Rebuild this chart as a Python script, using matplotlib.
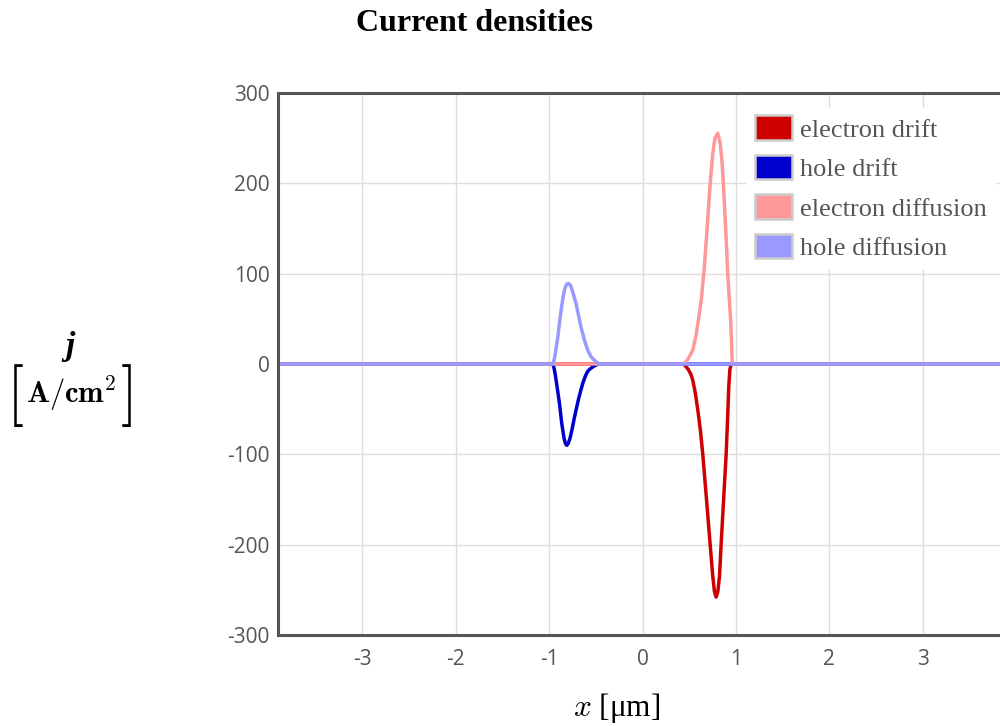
import matplotlib
matplotlib.use("Agg")
import matplotlib.pyplot as plt
from matplotlib.patches import Patch

plt.rcParams['axes.unicode_minus'] = False
plt.rcParams['mathtext.fontset'] = 'cm'

# data (x in um, j in A/cm^2)
hole_drift_x = [-3.9, -0.96, -0.945, -0.93, -0.91, -0.888, -0.865, -0.84, -0.825, -0.81,
                -0.795, -0.775, -0.755, -0.73, -0.709, -0.685, -0.66, -0.638, -0.61,
                -0.585, -0.567, -0.53, -0.495, -0.46, 3.9]
hole_drift_y = [0, 0, -5, -14, -28, -44, -65, -82, -88, -90,
                -88, -82, -73, -60, -50, -39, -29, -21, -13,
                -8, -6, -3, -1, 0, 0]

hole_diff_x = [-3.9, -0.959, -0.94, -0.925, -0.906, -0.89, -0.87, -0.85, -0.83, -0.81,
               -0.788, -0.77, -0.75, -0.73, -0.709, -0.685, -0.656, -0.62, -0.585,
               -0.55, -0.513, -0.48, -0.46, 3.9]
hole_diff_y = [0, 0, 7, 17, 30, 44, 60, 74, 84, 88.5,
               89, 87, 81, 74, 66, 54, 40, 26, 15,
               8, 4, 1, 0, 0]

el_drift_x = [-3.9, 0.43, 0.449, 0.49, 0.52, 0.538, 0.565, 0.592, 0.62, 0.645, 0.685,
              0.724, 0.74, 0.752, 0.77, 0.788, 0.806, 0.824, 0.841, 0.868, 0.895,
              0.91, 0.923, 0.935, 0.949, 3.9]
el_drift_y = [0, 0, -1, -6, -12, -18, -32, -51, -74, -100, -150,
              -200, -220, -235, -252, -258, -252, -235, -200, -150, -100,
              -62, -25, -6, 0, 0]

el_diff_x = [-3.9, 0.43, 0.467, 0.50, 0.538, 0.575, 0.60, 0.63, 0.66, 0.69, 0.724, 0.752,
             0.775, 0.805, 0.83, 0.85, 0.865, 0.89, 0.912, 0.93, 0.945, 0.953, 0.96, 3.9]
el_diff_y = [0, 0, 2.5, 8, 15.5, 33, 50, 72, 105, 148, 200, 233,
             250, 255.5, 245, 225, 200, 150, 100, 70, 45, 22, 0, 0]

labels = ["electron drift", "hole drift", "electron diffusion", "hole diffusion"]
colors = ["#cc0000", "#0000cc", "#ff9999", "#9999ff"]

fig = plt.figure(figsize=(10, 7.26), dpi=100)
ax = fig.add_axes([0.278, 0.1253, 0.729, 0.7466])

series = [(el_drift_x, el_drift_y), (hole_drift_x, hole_drift_y),
          (el_diff_x, el_diff_y), (hole_diff_x, hole_diff_y)]
for (xs, ys), c in zip(series, colors):
    ax.plot(xs, ys, color=c, lw=2.5, solid_joinstyle='round', solid_capstyle='round')

ax.set_xlim(-3.9, 3.9)
ax.set_ylim(-300, 300)
ax.set_xticks([-3, -2, -1, 0, 1, 2, 3])
ax.set_yticks([-300, -200, -100, 0, 100, 200, 300])
ax.grid(True, color="#dddddd", lw=1)
ax.set_axisbelow(True)
ax.tick_params(length=0, labelsize=15, labelcolor="#555555")
ax.tick_params(axis="x", pad=10)
ax.tick_params(axis="y", pad=6)
for lab in ax.get_xticklabels() + ax.get_yticklabels():
    lab.set_fontfamily("Open Sans")
for s in ["left", "bottom", "top", "right"]:
    ax.spines[s].set_color("#555555")
    ax.spines[s].set_linewidth(2.2)

handles = [Patch(facecolor=c, edgecolor="#cccccc", lw=1.8) for c in colors]
leg = ax.legend(handles, labels, loc="upper left", bbox_to_anchor=(0.734, 0.87),
                bbox_transform=fig.transFigure,
                frameon=True, fancybox=False, handlelength=1.4, handleheight=1.05,
                handletextpad=0.3, labelspacing=0.5, borderpad=0.3,
                prop={"family": "Liberation Serif", "size": 19})
leg.get_frame().set_edgecolor("white")
leg.get_frame().set_alpha(1)
for t in leg.get_texts():
    t.set_color("#555555")

fig.text(0.475, 0.968, "Current densities", ha="center", va="center",
         family="Liberation Serif", weight="bold", fontsize=23)
fig.text(0.617, 0.025, r"$x$ [μm]", ha="center", va="center",
         family="Liberation Serif", fontsize=22.5)
fig.text(0.07, 0.523, "j", ha="center", va="center", family="Liberation Serif",
         style="italic", weight="bold", fontsize=24)
fig.text(0.015, 0.455, r"$[$", ha="center", va="center", fontsize=44)
fig.text(0.126, 0.455, r"$]$", ha="center", va="center", fontsize=44)
fig.text(0.071, 0.458, r"$\mathbf{A/cm^2}$", ha="center", va="center", fontsize=22)

fig.savefig("out.png", dpi=100)
